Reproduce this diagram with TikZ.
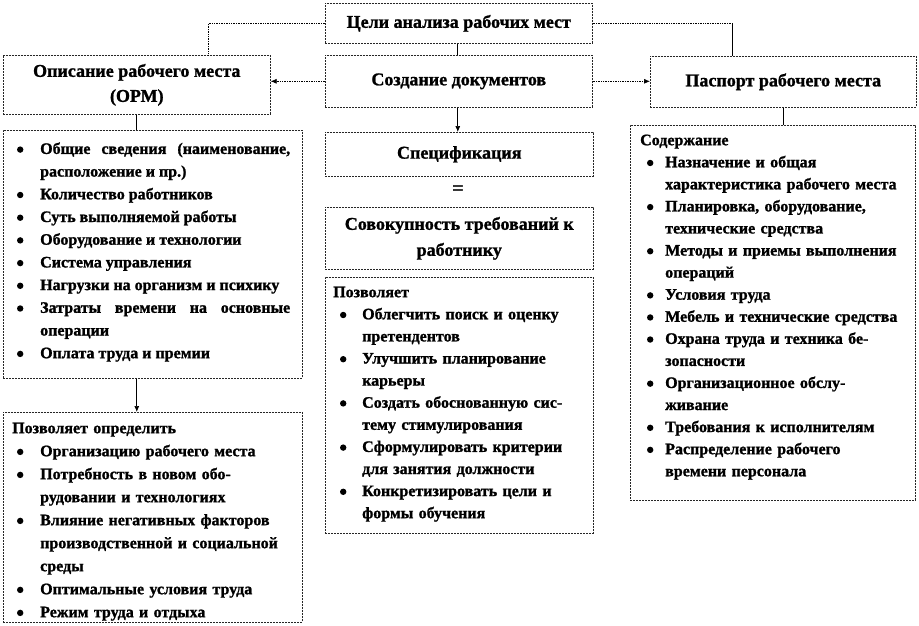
\documentclass[tikz,border=0pt]{standalone}
\usepackage{fontspec}
\setmainfont{Liberation Serif}[BoldFeatures={FakeBold=1.2}]
\usetikzlibrary{arrows.meta,calc}
\newcommand\dotb{\tikz[baseline=0pt]\fill (0pt,4.3pt) circle (3.2pt);}
\newcommand\itm[2]{\par\noindent\hangindent=#2\hangafter=1\hbox to #2{\hskip#1\dotb\hss}\ignorespaces}
\tikzset{
  bx/.style={draw=black!85, dash pattern=on 2pt off 1pt, line width=0.6pt, inner sep=0pt, anchor=north west,
    font=\fontsize{18}{25}\selectfont\bfseries, align=center},
  con/.style={draw=black, line width=0.7pt},
  dcon/.style={con, densely dotted},
  arr/.style={-{Latex[length=6pt,width=5pt]}},
  lst/.style={anchor=north west, inner sep=0pt},
}
\begin{document}
\begin{tikzpicture}[x=1pt,y=-1pt]
\fill[white] (0,0) rectangle (919,625);
\useasboundingbox (0,0) rectangle (919,625);
% title boxes
\node[bx, minimum width=267pt, minimum height=40pt] (goal) at (325,3) {Цели анализа рабочих мест};
\node[bx, minimum width=267pt, minimum height=52pt] (create) at (325,55) {Создание документов};
\node[bx, minimum width=267pt, minimum height=59pt] (orm) at (3,55) {Описание рабочего места\\(ОРМ)};
\node[bx, minimum width=266pt, minimum height=51pt] (pass) at (650,56) {Паспорт рабочего места};
\node[bx, minimum width=268pt, minimum height=44pt] (spec) at (325,132) {Спецификация};
\node[bx, minimum width=268pt, minimum height=62pt, font=\fontsize{18}{26}\selectfont\bfseries] (sovok) at (325,207) {Совокупность требований к\\работнику};
\node[font=\fontsize{20}{20}\selectfont\bfseries, inner sep=0pt] (eq) at (458,190) {=};
% list boxes
\node[bx, minimum width=299pt, minimum height=248pt] (ormlist) at (3,130) {};
\node[bx, minimum width=299pt, minimum height=210pt] (ormuse) at (3,412) {};
\node[bx, minimum width=268pt, minimum height=256pt] (pozv) at (325,277) {};
\node[bx, minimum width=285pt, minimum height=375pt] (soder) at (630,125) {};
% list texts
\node[lst, text width=273.2pt, align=justify, font=\fontsize{16}{22.7}\selectfont\bfseries] (t1) at (16.8,131) {%
\itm{0pt}{23.2pt}\rule{0pt}{15pt}Общие сведения (наименование,\linebreak расположение и пр.)
\itm{0pt}{23.2pt}Количество работников
\itm{0pt}{23.2pt}Суть выполняемой работы
\itm{0pt}{23.2pt}Оборудование и технологии
\itm{0pt}{23.2pt}Система управления
\itm{0pt}{23.2pt}Нагрузки на организм и психику
\itm{0pt}{23.2pt}Затраты времени на основные\linebreak операции
\itm{0pt}{23.2pt}Оплата труда и премии\par};
\node[lst, text width=288pt, align=left, font=\fontsize{16}{23}\selectfont\bfseries] (t2) at (12,418) {%
\noindent\rule{0pt}{15pt}Позволяет определить
\itm{4.8pt}{28pt}Организацию рабочего места
\itm{4.8pt}{28pt}Потребность в новом обо-\newline рудовании и технологиях
\itm{4.8pt}{28pt}Влияние негативных факторов\newline производственной и социальной\newline среды
\itm{4.8pt}{28pt}Оптимальные условия труда
\itm{4.8pt}{28pt}Режим труда и отдыха\par};
\node[lst, text width=257pt, align=left, font=\fontsize{16}{22.1}\selectfont\bfseries] (t3) at (333,282) {%
\noindent\rule{0pt}{15pt}Позволяет
\itm{6.8pt}{29pt}Облегчить поиск и оценку\newline претендентов
\itm{6.8pt}{29pt}Улучшить планирование\newline карьеры
\itm{6.8pt}{29pt}Создать обоснованную сис-\newline тему стимулирования
\itm{6.8pt}{29pt}Сформулировать критерии\newline для занятия должности
\itm{6.8pt}{29pt}Конкретизировать цели и\newline формы обучения\par};
\node[lst, text width=271pt, align=left, font=\fontsize{16}{22.07}\selectfont\bfseries] (t4) at (640,130) {%
\noindent\rule{0pt}{15pt}Содержание
\itm{6.8pt}{25pt}Назначение и общая\newline характеристика рабочего места
\itm{6.8pt}{25pt}Планировка, оборудование,\newline технические средства
\itm{6.8pt}{25pt}Методы и приемы выполнения\newline операций
\itm{6.8pt}{25pt}Условия труда
\itm{6.8pt}{25pt}Мебель и технические средства
\itm{6.8pt}{25pt}Охрана труда и техника бе-\newline зопасности
\itm{6.8pt}{25pt}Организационное обслу-\newline живание
\itm{6.8pt}{25pt}Требования к исполнителям
\itm{6.8pt}{25pt}Распределение рабочего\newline времени персонала\par};
% connectors
\coordinate (pl) at ([xshift=71.5pt]orm.north);
\coordinate (pr) at ([xshift=-51pt]pass.north);
\coordinate (cs) at ([xshift=-1pt]create.south);
\draw[dcon] (goal.west) -| (pl);
\draw[dcon] (goal.east) -- (goal.east -| pr);
\draw[con] (goal.east -| pr) -- (pr);
\draw[con] (goal.south -| cs) -- (create.north -| cs);
\draw[dcon,arr] (create.west) -- (create.west -| orm.east);
\draw[dcon,arr] (create.east) -- (create.east -| pass.west);
\draw[con,arr] (cs) -- (spec.north -| cs);
\draw[con] (orm.south) -- (orm.south |- ormlist.north);
\draw[con,arr] (ormlist.south -| orm.south) -- (ormuse.north -| orm.south);
\draw[con] (pass.south) -- (pass.south |- soder.north);
\end{tikzpicture}
\end{document}
